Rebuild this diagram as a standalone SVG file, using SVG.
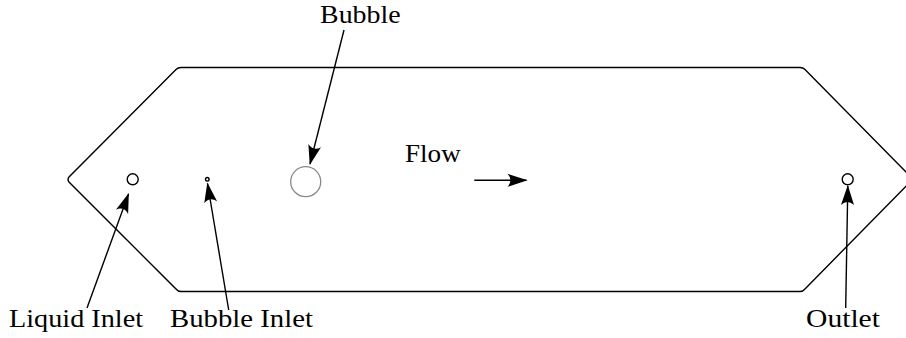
<svg xmlns="http://www.w3.org/2000/svg" width="906" height="338" viewBox="0 0 906 338">
<style>
.lbl{font-family:"Liberation Serif","Times New Roman",serif;font-size:26px;fill:#000}
.ln{fill:none;stroke:#000;stroke-width:1.4}
.arr{fill:none;stroke:#000;stroke-width:1.4;marker-end:url(#ah)}
</style>
<defs>
<marker id="ah" markerUnits="userSpaceOnUse" viewBox="-21 -8 23 16" refX="0" refY="0" markerWidth="23" markerHeight="16" orient="auto">
<path d="M1,0 L-19,-6.5 Q-13,0 -19,6.5 Z" fill="#000"/>
</marker>
</defs>
<rect width="906" height="338" fill="#fff"/>
<g id="channel">
<path class="ln" d="M181,67.5 L800,67.5 Q803,67.5 805,69.5 L913,179 L805,289 Q803,291.5 800,291.5 L181,291.5 Q178,291.5 176,289 L69,182 Q67,179.5 69,177 L176,69.5 Q178,67.5 181,67.5 Z"/>
</g>
<g id="liquid-inlet">
<circle cx="132.7" cy="179.3" r="5.5" class="ln"/>
<text class="lbl" x="9" y="327" textLength="134" lengthAdjust="spacingAndGlyphs">Liquid Inlet</text>
</g>
<g id="bubble-inlet">
<circle cx="207.3" cy="179.3" r="1.8" class="ln" stroke-width="1.1"/>
<text class="lbl" x="170" y="327" textLength="143" lengthAdjust="spacingAndGlyphs">Bubble Inlet</text>
</g>
<g id="bubble">
<circle cx="305.7" cy="181.7" r="15" fill="none" stroke="#888" stroke-width="1.3"/>
<text class="lbl" x="320" y="23" font-size="23" textLength="80.7" lengthAdjust="spacingAndGlyphs">Bubble</text>
</g>
<g id="outlet">
<circle cx="847.7" cy="179.3" r="5.5" class="ln"/>
<text class="lbl" x="806" y="327" textLength="74" lengthAdjust="spacingAndGlyphs">Outlet</text>
</g>
<g id="flow">
<text class="lbl" x="405" y="162" textLength="55.7" lengthAdjust="spacingAndGlyphs">Flow</text>
</g>
<g id="connectors">
<line class="arr" x1="344" y1="30" x2="310" y2="164"/>
<line class="arr" x1="474.3" y1="180.3" x2="526.5" y2="180.3"/>
<line class="arr" x1="87" y1="308" x2="128.5" y2="194"/>
<line class="arr" x1="228.7" y1="310" x2="207.5" y2="183.5"/>
<line class="arr" x1="845.7" y1="308" x2="847.8" y2="186"/>
</g>
</svg>
